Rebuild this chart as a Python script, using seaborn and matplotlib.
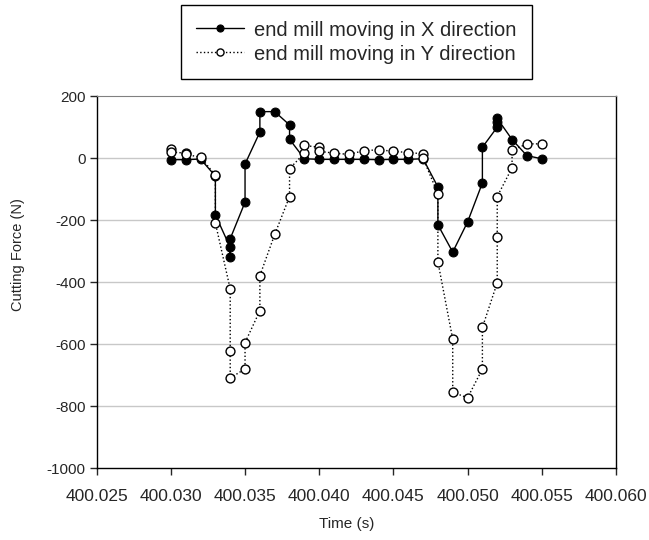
import numpy as np
import pandas as pd
import seaborn as sns
import matplotlib.pyplot as plt
from matplotlib.ticker import FormatStrFormatter, MultipleLocator

# end mill moving in X direction (filled markers)
time_x = [400.030, 400.031, 400.032, 400.033, 400.033, 400.034, 400.034, 400.034,
          400.035, 400.035, 400.036, 400.036, 400.037, 400.038, 400.038, 400.039,
          400.040, 400.041, 400.042, 400.043, 400.044, 400.045, 400.046, 400.047,
          400.048, 400.048, 400.049, 400.050, 400.051, 400.051, 400.052, 400.052,
          400.052, 400.053, 400.054, 400.055]
force_x = [-5, -5, -3, -58, -183, -288, -320, -260,
           -142, -19, 84, 150, 150, 107, 61, -2,
           -4, -4, -4, -4, -5, -4, -4, -2,
           -93, -215, -303, -206, -80, 35, 100, 115,
           128, 60, 8, -2]

# end mill moving in Y direction (open markers)
time_y = [400.030, 400.030, 400.031, 400.031, 400.032, 400.033, 400.033, 400.034,
          400.034, 400.034, 400.035, 400.035, 400.036, 400.036, 400.037, 400.038,
          400.038, 400.039, 400.039, 400.040, 400.040, 400.041, 400.042, 400.043,
          400.044, 400.045, 400.046, 400.047, 400.047, 400.048, 400.048, 400.049,
          400.049, 400.050, 400.051, 400.051, 400.052, 400.052, 400.052, 400.053,
          400.053, 400.054, 400.055]
force_y = [28, 20, 16, 12, 3, -55, -209, -422,
           -621, -709, -680, -595, -492, -379, -246, -124,
           -34, 16, 41, 35, 22, 16, 12, 24,
           27, 22, 18, 14, 0, -115, -334, -584,
           -755, -773, -680, -546, -402, -254, -124, -31,
           25, 46, 46]

labels = ['end mill moving in X direction', 'end mill moving in Y direction']

sns.set_style('white')
plt.rcParams['font.family'] = ['Liberation Sans', 'DejaVu Sans']
plt.rcParams['axes.unicode_minus'] = False

dx = pd.DataFrame({'t': time_x, 'f': force_x})
dy = pd.DataFrame({'t': time_y, 'f': force_y})

fig = plt.figure(figsize=(6.49, 5.40), dpi=100)
ax = fig.add_axes([0.149, 0.133, 0.80, 0.689])

for v in range(-800, 200, 200):
    ax.axhline(v, color='#c8c8c8', lw=1.0, zorder=0)

sns.lineplot(data=dx, x='t', y='f', sort=False, estimator=None, ax=ax,
             color='black', lw=1.0, marker='o', markersize=6.4,
             markerfacecolor='black', markeredgecolor='black', label=labels[0])
sns.lineplot(data=dy, x='t', y='f', sort=False, estimator=None, ax=ax,
             color='black', lw=1.0, ls=':', marker='o', markersize=6.4,
             markerfacecolor='white', markeredgecolor='black', markeredgewidth=1.0,
             label=labels[1])

ax.set_xlim(400.025, 400.060)
ax.set_ylim(-1000, 200)
ax.xaxis.set_major_locator(MultipleLocator(0.005))
ax.yaxis.set_major_locator(MultipleLocator(200))
ax.xaxis.set_major_formatter(FormatStrFormatter('%.3f'))
ax.yaxis.set_major_formatter(FormatStrFormatter('%d'))
ax.tick_params(axis='x', labelsize=12.5, direction='out', length=5, width=1, bottom=True, pad=10)
ax.tick_params(axis='y', labelsize=11, direction='out', length=5, width=1, left=True, pad=3)

ax.set_xlabel('Time (s)', fontsize=11)
ax.set_ylabel('Cutting Force (N)', fontsize=10.5)
ax.xaxis.set_label_coords(0.482, -0.13)
ax.yaxis.set_label_coords(-0.138, 0.575)

for s in ['left', 'bottom', 'right']:
    ax.spines[s].set_color('black')
    ax.spines[s].set_linewidth(1.0)
ax.spines['top'].set_color('#808080')

ax.get_legend().remove()
h, l = ax.get_legend_handles_labels()
fig.legend(h, l, loc='upper center', bbox_to_anchor=(0.549, 0.99), fontsize=14.5,
           frameon=True, fancybox=False, framealpha=1, edgecolor='black',
           handlelength=2.4, handletextpad=0.5, borderpad=0.75, labelspacing=0.25,
           markerscale=0.8, borderaxespad=0)

fig.savefig('out.png', dpi=100)
